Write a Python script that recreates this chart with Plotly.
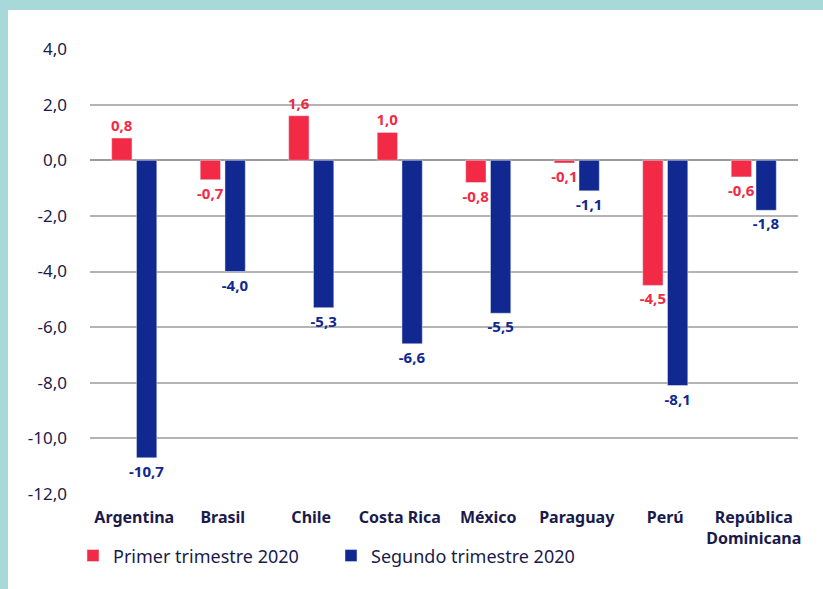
import plotly.graph_objects as go

categories = ["Argentina", "Brasil", "Chile", "Costa Rica", "México", "Paraguay", "Perú", "República<br>Dominicana"]
q1_2020 = [0.8, -0.7, 1.6, 1.0, -0.8, -0.1, -4.5, -0.6]
q2_2020 = [-10.7, -4.0, -5.3, -6.6, -5.5, -1.1, -8.1, -1.8]
series_names = ["Primer trimestre 2020", "Segundo trimestre 2020"]
y_ticks = [4, 2, 0, -2, -4, -6, -8, -10, -12]

RED = "#F22A45"
BLUE = "#10288F"
TXT = "#1B1B4B"
FONT = "Noto Sans"


def fmt(v):
    return f"{v:.1f}".replace(".", ",")


fig = go.Figure()
fig.add_trace(go.Bar(
    x=categories, y=q1_2020, name=series_names[0], marker_color=RED,
    text=[fmt(v) for v in q1_2020], texttemplate="%{text}",
    textposition="outside", cliponaxis=False, constraintext="none",
    textfont=dict(family=FONT, size=15, color=RED, weight="bold"),
))
fig.add_trace(go.Bar(
    x=categories, y=q2_2020, name=series_names[1], marker_color=BLUE,
    text=[fmt(v) for v in q2_2020], texttemplate="%{text}",
    textposition="outside", cliponaxis=False, constraintext="none",
    textfont=dict(family=FONT, size=15, color=BLUE, weight="bold"),
))

fig.update_layout(
    width=823, height=589,
    margin=dict(l=90, r=25, t=49, b=95, autoexpand=False),
    paper_bgcolor="white", plot_bgcolor="white",
    barmode="group", bargap=0.44, bargroupgap=0.18,
    font=dict(family=FONT, color=TXT),
    showlegend=True,
    legend=dict(orientation="h", x=-0.024, xanchor="left", y=-0.139, yanchor="middle",
                font=dict(family=FONT, size=18, color=TXT),
                entrywidth=213, entrywidthmode="pixels",
                traceorder="normal", bgcolor="rgba(0,0,0,0)"),
    xaxis=dict(showgrid=False, showline=False, zeroline=False,
               tickfont=dict(family=FONT, size=16, color=TXT, weight="bold"),
               ticks="", ticklabelstandoff=12),
    yaxis=dict(range=[-12, 4], tickvals=y_ticks, ticktext=[fmt(v) for v in y_ticks],
               showgrid=True, gridcolor="#B4B4B4", gridwidth=1.5,
               zeroline=True, zerolinecolor="#9A9A9A", zerolinewidth=2,
               showline=False, ticks="", ticklabelstandoff=22,
               tickfont=dict(family=FONT, size=17, color=TXT)),
    shapes=[
        dict(type="rect", xref="paper", yref="paper", x0=-0.2, x1=-0.1158, y0=-0.3, y1=1.2,
             fillcolor="#A8D9D9", line=dict(width=0), layer="above"),
        dict(type="rect", xref="paper", yref="paper", x0=-0.2, x1=1.1, y0=1.0876, y1=1.2,
             fillcolor="#A8D9D9", line=dict(width=0), layer="above"),
    ],
)

fig.write_html("out.html", config={"displayModeBar": False},
               post_script="document.body.style.margin='0';")
